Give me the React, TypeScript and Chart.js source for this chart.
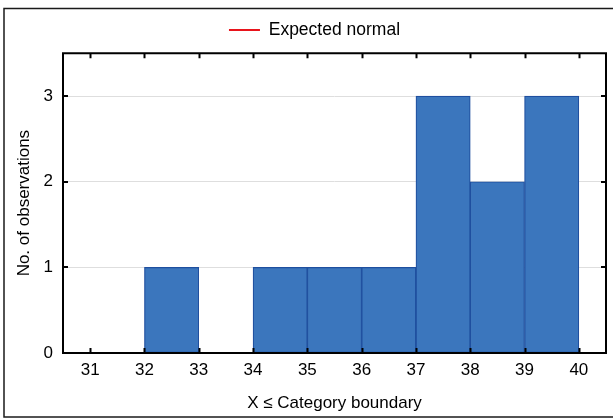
import React, { useEffect, useRef } from 'react';
import { Chart, registerables } from 'chart.js';

Chart.register(...registerables);

// Histogram bins (lower / upper category boundaries) and observation counts
const binLower = [31, 32, 33, 34, 35, 36, 37, 38, 39];
const binUpper = [32, 33, 34, 35, 36, 37, 38, 39, 40];
const counts = [0, 1, 0, 1, 1, 1, 3, 2, 3];

// Axis tick labels
const xTicks = [31, 32, 33, 34, 35, 36, 37, 38, 39, 40];
const yTicks = [0, 1, 2, 3];

const legendLabel = 'Expected normal';
const barLabel = 'Observations';
const xTitle = 'X \u2264 Category boundary';
const yTitle = 'No. of observations';

const FONT = "'Liberation Sans', Arial, Helvetica, sans-serif";

const framePlugin = {
  id: 'frameDecor',
  beforeDraw(chart: any) {
    const ctx = chart.ctx;
    ctx.save();
    ctx.fillStyle = '#ffffff';
    ctx.fillRect(0, 0, chart.width, chart.height);
    ctx.strokeStyle = '#1a1a1a';
    ctx.lineWidth = 1.5;
    ctx.strokeRect(4, 8.5, 700, 408.5);
    ctx.restore();
  },
  afterDatasetsDraw(chart: any) {
    const ctx = chart.ctx;
    const { left, top, right, bottom } = chart.chartArea;
    const xs = chart.scales.x;
    const ys = chart.scales.y;
    ctx.save();
    ctx.strokeStyle = '#000';
    ctx.lineWidth = 2;
    ctx.beginPath();
    for (const v of xTicks) {
      const px = Math.round(xs.getPixelForValue(v)) + 0.5;
      ctx.moveTo(px, bottom);
      ctx.lineTo(px, bottom - 5);
      ctx.moveTo(px, top);
      ctx.lineTo(px, top + 5);
    }
    for (const v of yTicks) {
      const py = Math.round(ys.getPixelForValue(v));
      ctx.moveTo(left, py);
      ctx.lineTo(left + 5, py);
      ctx.moveTo(right, py);
      ctx.lineTo(right - 5, py);
    }
    ctx.stroke();
    ctx.strokeRect(left, top, right - left, bottom - top);
    ctx.restore();
  },
};

export default function App() {
  const ref = useRef<HTMLCanvasElement | null>(null);

  useEffect(() => {
    if (!ref.current) return;
    Chart.defaults.font.family = FONT;
    Chart.defaults.color = '#000';

    const barData = binLower.map((lo, i) => ({ x: (lo + binUpper[i]) / 2, y: counts[i] }));

    const chart = new Chart(ref.current, {
      type: 'bar',
      data: {
        datasets: [
          {
            type: 'bar',
            label: barLabel,
            data: barData,
            backgroundColor: '#3b76bd',
            borderColor: '#1f4f9f',
            borderWidth: 1.2,
            borderSkipped: false,
            barPercentage: 1,
            categoryPercentage: 1,
            xAxisID: 'x',
            yAxisID: 'y',
          } as any,
          {
            type: 'line',
            label: legendLabel,
            data: [],
            borderColor: '#e8141c',
            backgroundColor: '#e8141c',
            borderWidth: 2,
            xAxisID: 'x',
            yAxisID: 'y',
          } as any,
        ],
      },
      options: {
        animation: false,
        responsive: false,
        maintainAspectRatio: false,
        layout: { padding: { left: 16, right: 0, top: 0, bottom: 0 } },
        scales: {
          x: {
            type: 'linear',
            position: 'bottom',
            min: 30.5,
            max: 40.5,
            offset: false,
            grid: { display: false, offset: false, drawTicks: false },
            border: { display: false },
            ticks: {
              padding: 7,
              color: '#000',
              font: { size: 17, family: FONT },
              autoSkip: false,
              maxRotation: 0,
              includeBounds: false,
            },
            afterBuildTicks: (s: any) => {
              s.ticks = xTicks.map((v) => ({ value: v }));
            },
            title: {
              display: true,
              text: xTitle,
              color: '#000',
              font: { size: 17, family: FONT },
              padding: { top: 0, bottom: 5 },
            },
            afterFit: (s: any) => {
              s.height = 66;
            },
          },
          x2: {
            type: 'linear',
            position: 'top',
            display: true,
            grid: { display: false, drawTicks: false },
            border: { display: false },
            ticks: { display: false },
            afterFit: (s: any) => {
              s.height = 4.5;
            },
          },
          y: {
            type: 'linear',
            position: 'left',
            min: 0,
            max: 3.5,
            grid: { color: '#dedede', lineWidth: 1, drawTicks: false },
            border: { display: false },
            ticks: {
              padding: 10,
              color: '#000',
              font: { size: 17, family: FONT },
              includeBounds: false,
            },
            afterBuildTicks: (s: any) => {
              s.ticks = yTicks.map((v) => ({ value: v }));
            },
            title: {
              display: true,
              text: yTitle,
              color: '#000',
              font: { size: 17, family: FONT },
              padding: { top: -2.2, bottom: 0 },
            },
            afterFit: (s: any) => {
              s.width = 47;
            },
          },
          y2: {
            type: 'linear',
            position: 'right',
            display: true,
            grid: { display: false, drawTicks: false },
            border: { display: false },
            ticks: { display: false },
            afterFit: (s: any) => {
              s.width = 7;
            },
          },
        },
        plugins: {
          legend: {
            display: true,
            position: 'top',
            labels: {
              boxWidth: 31,
              boxHeight: 2,
              padding: 21.25,
              color: '#000',
              font: { size: 17.5, family: FONT },
              generateLabels: () => [
                {
                  text: legendLabel,
                  fillStyle: '#e8141c',
                  strokeStyle: '#e8141c',
                  lineWidth: 0,
                  hidden: false,
                  datasetIndex: 1,
                  fontColor: '#000',
                } as any,
              ],
            },
          },
          tooltip: { enabled: false },
        },
      } as any,
      plugins: [framePlugin],
    });

    return () => {
      chart.destroy();
    };
  }, []);

  return (
    <div style={{ position: 'fixed', left: 0, top: 0, width: 613, height: 419 }}>
      <canvas ref={ref} width={613} height={419} style={{ width: 613, height: 419, display: 'block' }} />
    </div>
  );
}
